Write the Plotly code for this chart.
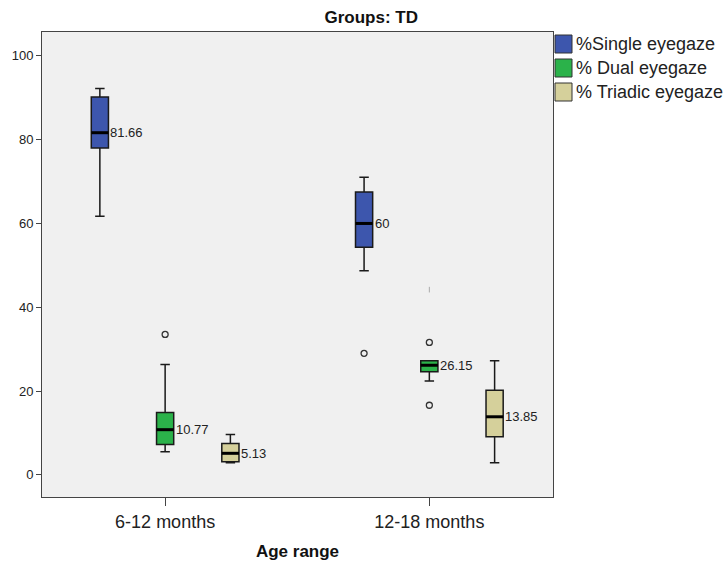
import plotly.graph_objects as go

categories = ["6-12 months", "12-18 months"]
series = ["%Single eyegaze", "% Dual eyegaze", "% Triadic eyegaze"]
colors = ["#3d56ad", "#2bb24a", "#d5d09b"]

# per series, per category
q1 = [[78.0, 54.3], [7.25, 24.6], [3.1, 9.07]]
median = [[81.66, 60.0], [10.77, 26.15], [5.13, 13.85]]
q3 = [[90.2, 67.5], [14.9, 27.2], [7.5, 20.2]]
lowerfence = [[61.7, 48.7], [5.5, 22.4], [2.9, 2.9]]
upperfence = [[92.2, 71.0], [26.3, 27.2], [9.6, 27.2]]
# outliers: list per series of (category index, value)
outliers = [[(1, 29.0)], [(0, 33.5), (1, 31.6), (1, 16.6)], []]
faint_marks = [(1, 1, 44.2)]  # (series, category, value)

FONT = "Liberation Sans, Arial, sans-serif"
W, H = 725, 561
ML, MR, MT, MB = 42, 172, 32, 64
PW, PH = W - ML - MR, H - MT - MB


def px_x(p):
    return (p - ML) / PW


def px_y(p):
    return (H - MB - p) / PH


offsets = [-0.247, 0.0, 0.247]
bw = 0.065

fig = go.Figure()
for s, name in enumerate(series):
    xs = [i + offsets[s] for i in range(len(categories))]
    fig.add_trace(go.Box(
        x=xs, q1=q1[s], median=median[s], q3=q3[s],
        lowerfence=lowerfence[s], upperfence=upperfence[s],
        name=name, width=bw, whiskerwidth=0.55,
        fillcolor=colors[s], line=dict(color="#1a1a1a", width=1.5),
        boxpoints=False, hoverinfo="skip", showlegend=False,
    ))
for s, name in enumerate(series):
    xs = [i + offsets[s] for i in range(len(categories))]
    for i, x in enumerate(xs):
        fig.add_trace(go.Scatter(
            x=[x - bw / 2, x + bw / 2], y=[median[s][i], median[s][i]],
            mode="lines", line=dict(color="black", width=3),
            showlegend=False, hoverinfo="skip"))
        fig.add_annotation(x=x + bw / 2, y=median[s][i], text=f"{median[s][i]:g}",
                           xanchor="left", yanchor="middle", showarrow=False,
                           xshift=0, font=dict(family=FONT, size=13, color="#222"))
    if outliers[s]:
        fig.add_trace(go.Scatter(
            x=[c + offsets[s] for c, v in outliers[s]], y=[v for c, v in outliers[s]],
            mode="markers", marker=dict(symbol="circle-open", size=6,
                                        color="#333", line=dict(width=1.3)),
            showlegend=False, hoverinfo="skip"))
fig.add_trace(go.Scatter(
    x=[c + offsets[s] for s, c, v in faint_marks], y=[v for s, c, v in faint_marks],
    mode="markers", marker=dict(symbol="line-ns", size=4, color="#aaa",
                                line=dict(width=1, color="#aaa")),
    showlegend=False, hoverinfo="skip"))

# manual legend (outside the plot, clipped at right like the original)
for s, name in enumerate(series):
    cy = 44 + 24 * s
    fig.add_shape(type="rect", xref="paper", yref="paper",
                  x0=px_x(555), x1=px_x(572), y0=px_y(cy + 9), y1=px_y(cy - 9),
                  fillcolor=colors[s], line=dict(color="#333", width=1))
    fig.add_annotation(xref="paper", yref="paper", x=px_x(574), y=px_y(cy),
                       text=name, xanchor="left", yanchor="middle", showarrow=False,
                       font=dict(family=FONT, size=18, color="#222"))

fig.update_layout(
    width=W, height=H,
    margin=dict(l=ML, r=MR, t=MT, b=MB, autoexpand=False),
    paper_bgcolor="white", plot_bgcolor="#f0f0f0",
    font=dict(family=FONT, color="#222"),
    title=dict(text="<b>Groups: TD</b>", x=0.512, xref="container", xanchor="center",
               y=0.97, yref="container", yanchor="middle",
               font=dict(family=FONT, size=17, color="#111")),
    showlegend=False,
    xaxis=dict(range=[-0.466, 1.468], tickmode="array", tickvals=[0, 1],
               ticktext=categories, ticks="outside", ticklen=8, tickcolor="#444",
               showline=True, linecolor="#444", linewidth=1, mirror=True,
               showgrid=False, zeroline=False,
               tickfont=dict(family=FONT, size=18, color="#222"),
               title=dict(text="<b>Age range</b>", standoff=14,
                          font=dict(family=FONT, size=17, color="#111"))),
    yaxis=dict(range=[-5.3, 105.7], tickmode="linear", tick0=0, dtick=20,
               ticks="outside", ticklen=5, tickcolor="#444",
               showline=True, linecolor="#444", linewidth=1, mirror=True,
               showgrid=False, zeroline=False,
               tickfont=dict(family=FONT, size=13, color="#222")),
)
fig.write_html("out.html")
